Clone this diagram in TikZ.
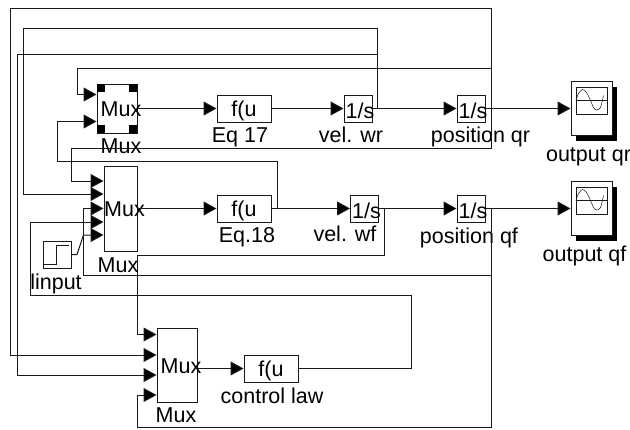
\documentclass[tikz,border=0pt]{standalone}
\usepackage{fontspec}
\setmainfont{Liberation Sans}
\usetikzlibrary{arrows.meta}
\begin{document}
\begin{tikzpicture}[x=1pt, y=-1pt, node distance=100pt, auto, line width=1pt, font=\fontsize{21.5}{24}\selectfont]
    \tikzstyle{block} = [rectangle, draw=black!90, inner sep=0pt, text centered]
    \tikzstyle{blockname} = [inner sep=0pt, text height=15pt, text depth=5pt]
    \tikzstyle{mux} = [block, minimum width=40pt, minimum height=49pt, label={[xshift=4pt, yshift=-1pt]center:Mux}]
    \tikzstyle{fcn} = [block, minimum width=54pt, minimum height=27pt, text height=16pt, text depth=0pt]
    \tikzstyle{integ} = [block, minimum width=28pt, minimum height=27pt, label={[xshift=2pt, yshift=-2pt]center:1/s}]
    \tikzstyle{scopebox} = [block, fill=white, minimum width=41pt, minimum height=54pt]
    \tikzstyle{scopeshadow} = [fill=black, inner sep=0pt, minimum width=41pt, minimum height=54pt]
    \tikzstyle{screen} = [block, minimum width=31pt, minimum height=27pt]
    \tikzstyle{handle} = [fill=black, inner sep=0pt, minimum size=8pt]
    \tikzstyle{signal} = [draw=black!90, -{Triangle[length=13pt, width=14pt, fill=black]}]
    \tikzstyle{wire} = [draw=black!90]
    \useasboundingbox (0,0) rectangle (630,429);

    % Upper row
    \node [mux] (muxr) at (117,108.5) {};
    \node [fcn, right of=muxr, xshift=27pt] (eqr) {f(u};
    \node [integ, right of=eqr, xshift=14pt] (velr) {};
    \node [integ, right of=velr, xshift=13pt] (posr) {};
    \node [scopeshadow, right of=posr, xshift=25.5pt, yshift=-5pt] (shadowr) {};
    \node [scopebox, right of=posr, xshift=20.5pt] (scoper) {};
    \node [screen, above of=scoper, node distance=8pt] (screenr) {};

    % Middle row
    \node [mux, minimum width=33pt, minimum height=85pt] (muxf) at (120.5,208.5) {};
    \node [fcn, right of=muxf, xshift=23.5pt] (eqf) {f(u};
    \node [integ, right of=eqf, xshift=20.5pt] (velf) {};
    \node [integ, right of=velf, xshift=6.5pt] (posf) {};
    \node [scopeshadow, right of=posf, xshift=25.5pt, yshift=-5pt] (shadowf) {};
    \node [scopebox, right of=posf, xshift=20.5pt] (scopef) {};
    \node [screen, above of=scopef, node distance=8pt] (screenf) {};
    \node [block, minimum width=28pt, minimum height=27pt] (stepin) at (57,254.5) {};

    % Lower row
    \node [mux, minimum height=74pt] (muxc) at (177,365) {};
    \node [fcn, right of=muxc, xshift=-6pt, yshift=-3.5pt] (law) {f(u};

    % Block names
    \node [blockname, below of=eqr, node distance=28.5pt, xshift=-4pt] (nameeqr) {Eq 17};
    \node [blockname, below of=velr, node distance=28.5pt, xshift=-7pt] (namevelr) {vel. wr};
    \node [blockname, below of=posr, node distance=28.5pt, xshift=9.5pt] (nameposr) {position qr};
    \node [blockname, below of=scoper, node distance=47.5pt, xshift=-3pt] (namescoper) {output qr};
    \node [blockname, below of=muxr, node distance=39.5pt, xshift=4pt] (namemuxr) {Mux};
    \node [blockname, below of=eqf, node distance=28.5pt, xshift=3pt] (nameeqf) {Eq.18};
    \node [blockname, below of=velf, node distance=28pt, xshift=-19.5pt] (namevelf) {vel. wf};
    \node [blockname, below of=posf, node distance=29.5pt, xshift=-2pt] (nameposf) {position qf};
    \node [blockname, below of=scopef, node distance=47.5pt, xshift=-7pt] (namescopef) {output qf};
    \node [blockname, below of=muxf, node distance=58.5pt, xshift=-2.5pt] (namemuxf) {Mux};
    \node [blockname, below of=stepin, node distance=29.5pt, xshift=-1pt] (namestep) {linput};
    \node [blockname, below of=muxc, node distance=52pt, xshift=-1pt] (namemuxc) {Mux};
    \node [blockname, below of=law, node distance=29.5pt, xshift=1pt] (namelaw) {control law};

    % Selection handles
    \node [handle, anchor=north west] (hnw) at (muxr.north west) {};
    \node [handle, anchor=north east] (hne) at (muxr.north east) {};
    \node [handle, anchor=south west] (hsw) at (muxr.south west) {};
    \node [handle, anchor=south east] (hse) at (muxr.south east) {};

    % Icons
    \draw [wire] ([xshift=1pt, yshift=-9.5pt]stepin.west) -- ++(13,0) -- ++(0,-19) -- ++(12,0);
    \draw [wire] (screenr.west) -- (screenr.east);
    \draw [wire] (screenf.west) -- (screenf.east);
    \draw [wire, line width=0.5pt, shift={(screenr.west)}] plot [smooth] coordinates {(0.5,0) (3,-7) (7,-11) (11,-8) (15,0) (18,7) (21,9.5) (25,7) (28,-5)};
    \draw [wire, line width=0.5pt, shift={(screenf.west)}] plot [smooth] coordinates {(0.5,0) (3,-7) (7,-11) (11,-8) (15,0) (18,7) (21,9.5) (25,7) (28,-5)};

    % Forward connections
    \draw [signal] (muxr.east) -- (eqr);
    \draw [signal] (eqr) -- (velr);
    \draw [signal] (velr) -- (posr);
    \draw [signal] (posr) -- (scoper);
    \draw [signal] (muxf.east) -- (eqf);
    \draw [signal] (eqf) -- (velf);
    \draw [signal] (velf) -- (posf);
    \draw [signal] (posf) -- (scopef);
    \draw [signal] (muxc.east |- law.west) -- (law);

    % Feedback into upper mux
    \draw [signal] (posr.east) -- (491,108.5) -- (491,68) -- (77,68) -- (77,94.5) -- ([yshift=14pt]muxr.west);
    \draw [signal] (eqf.east) -- (277,208.5) -- (277,161.5) -- (57,161.5) -- (57,121.5) -- ([yshift=-13pt]muxr.west);

    % Feedback into middle mux
    \draw [signal] (posr.east) -- (491,108.5) -- (491,148) -- (71,148) -- (71,181) -- ([yshift=27.5pt]muxf.west);
    \draw [signal] (velr.east) -- (377.5,108.5) -- (377.5,28) -- (23.5,28) -- (23.5,194) -- ([yshift=14.5pt]muxf.west);
    \draw [signal] (posf.east) -- (491,208.5) -- (491,275) -- (83.5,275) -- (83.5,208.5) -- (muxf.west);
    \draw [signal] (law.east) -- (411,368.5) -- (411,295) -- (30.5,295) -- (30.5,222) -- ([yshift=-13.5pt]muxf.west);
    \draw [signal] (stepin.east) -- (77,254.5) -- (83.5,235) -- ([yshift=-26.5pt]muxf.west);

    % Feedback into lower mux
    \draw [signal] (velf.east) -- (384,208.5) -- (384,255) -- (137,255) -- (137,334.5) -- ([yshift=30.5pt]muxc.west);
    \draw [signal] (posr.east) -- (491,108.5) -- (491,8) -- (10,8) -- (10,355) -- ([yshift=10pt]muxc.west);
    \draw [signal] (velr.east) -- (377.5,108.5) -- (377.5,54.5) -- (17,54.5) -- (17,375) -- ([yshift=-10pt]muxc.west);
    \draw [signal] (posf.east) -- (491,208.5) -- (491,427.5) -- (137,427.5) -- (137,395) -- ([yshift=-30pt]muxc.west);
\end{tikzpicture}
\end{document}
